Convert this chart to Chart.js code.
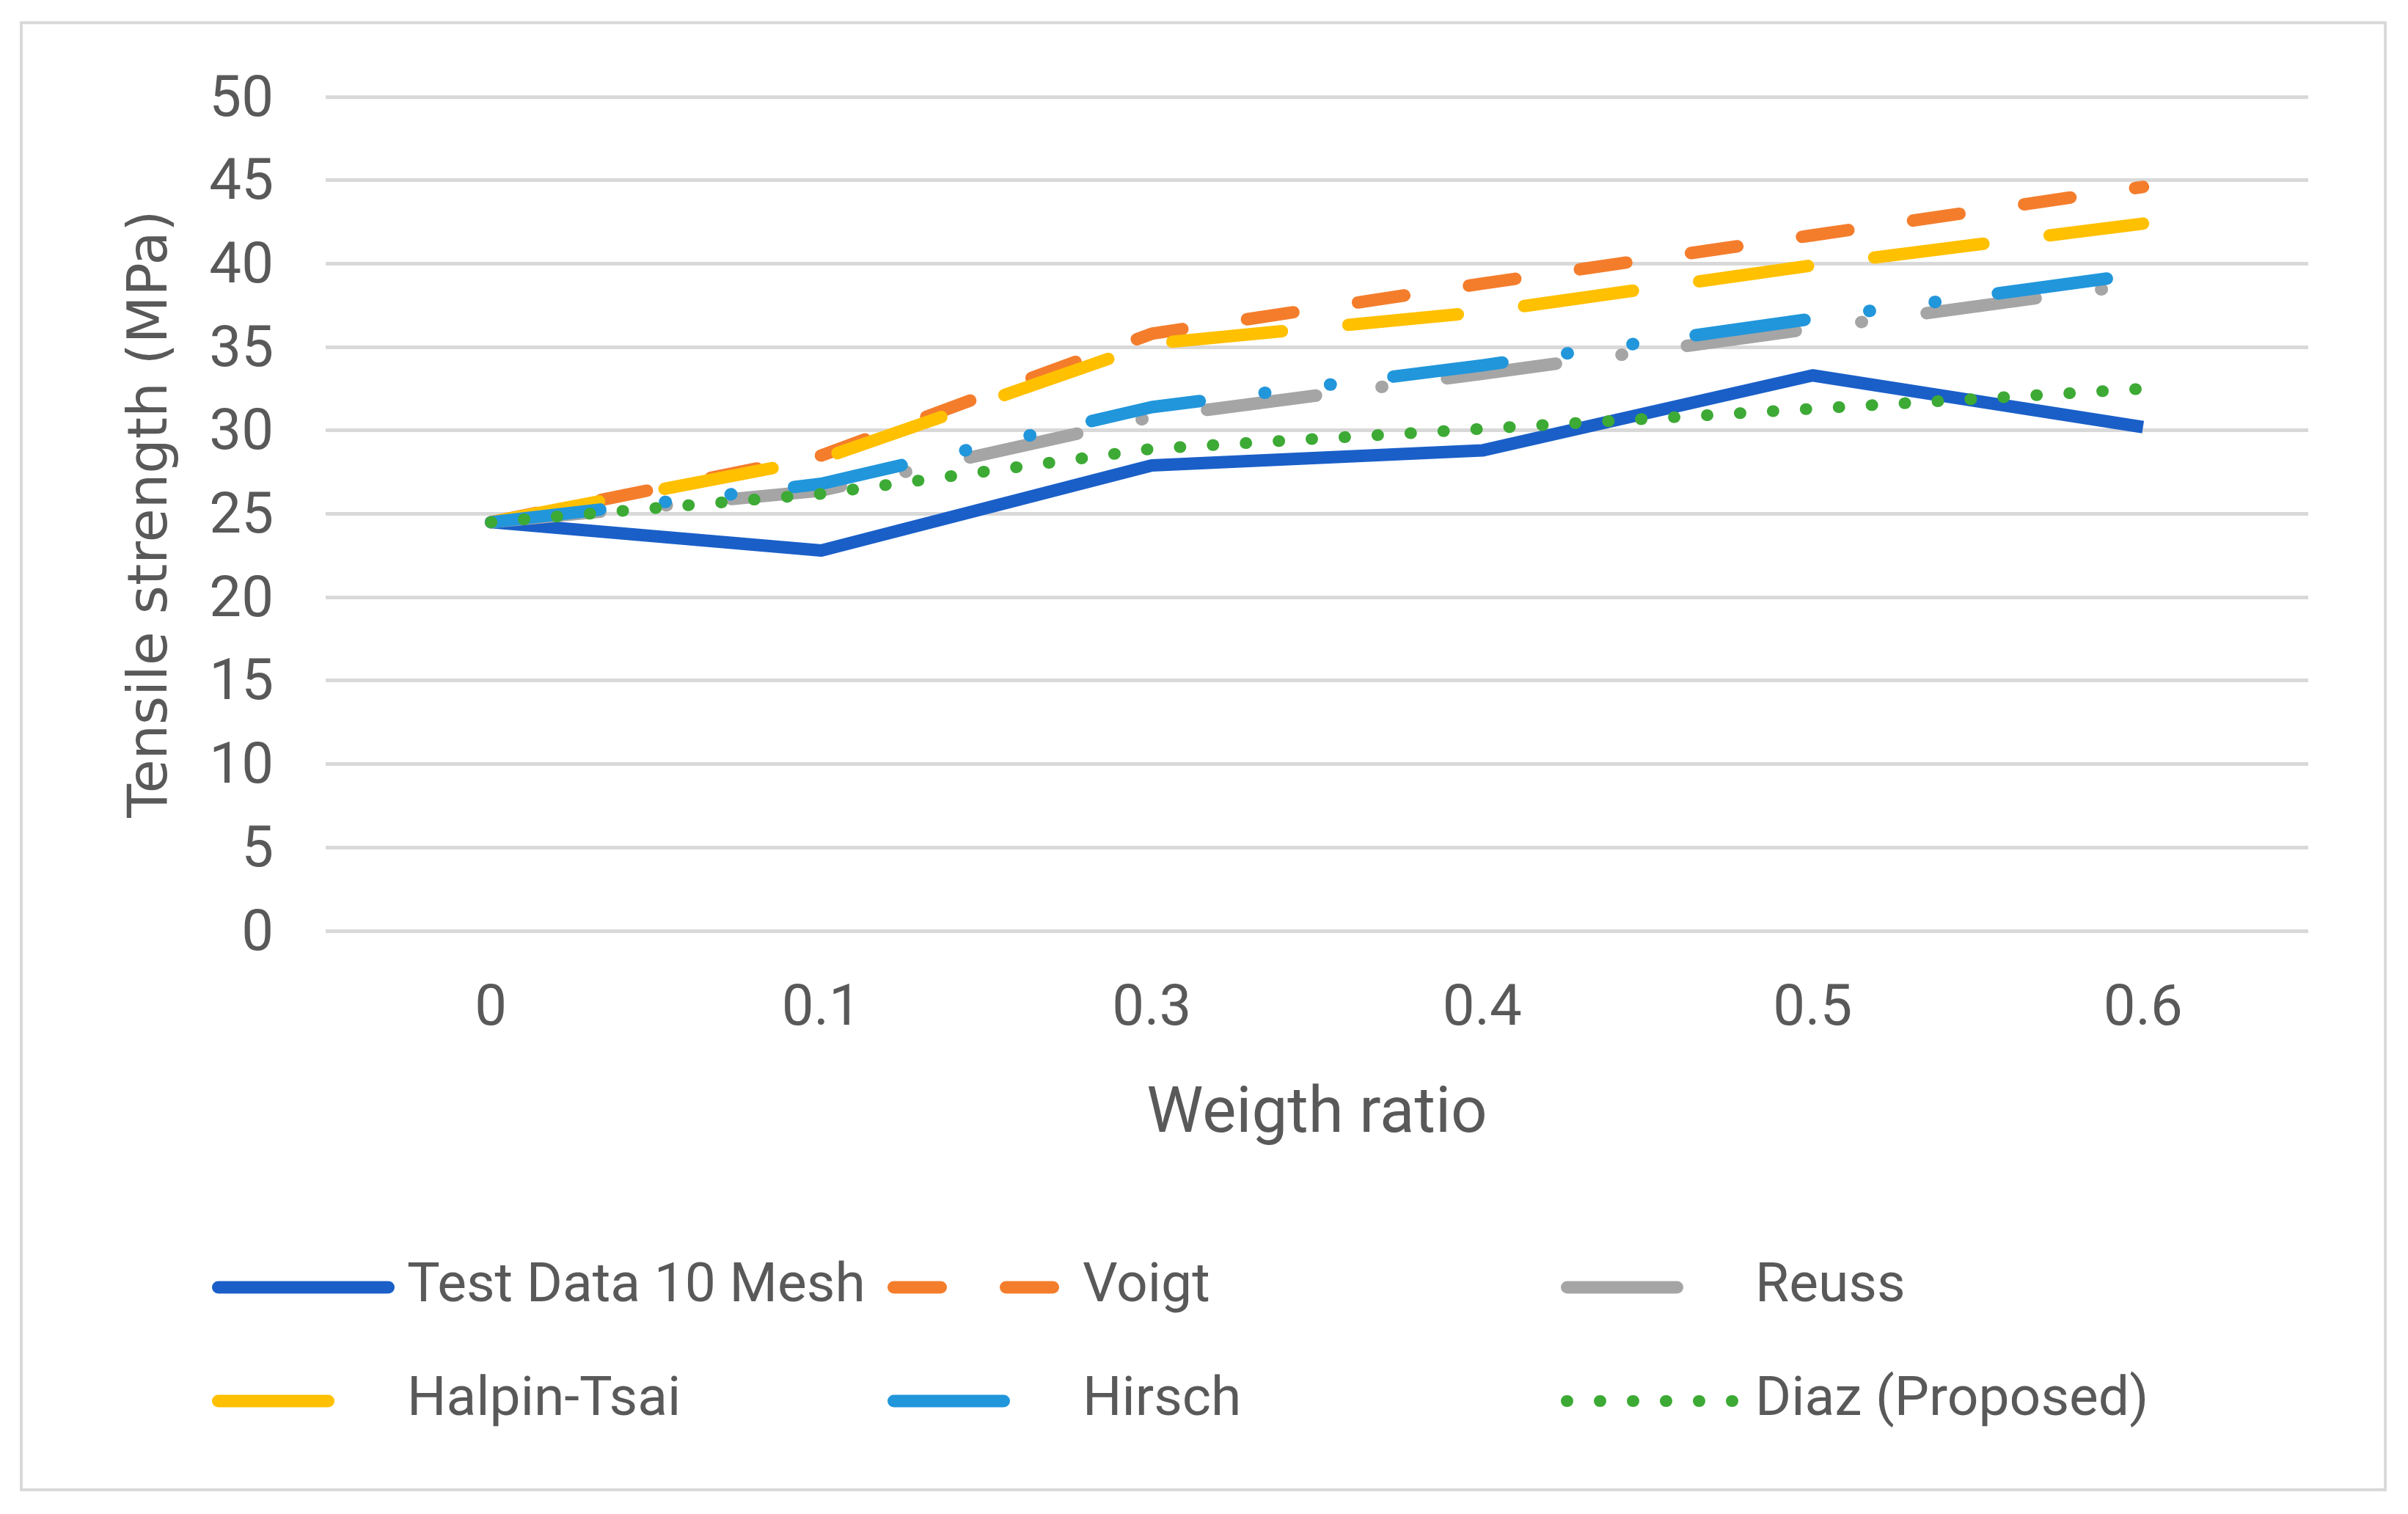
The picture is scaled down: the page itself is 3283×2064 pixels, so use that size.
<!DOCTYPE html>
<html lang="en">

<head>
    <meta charset="UTF-8">
    <title>Tensile strength vs weigth ratio</title>
    <script src="https://cdn.jsdelivr.net/npm/chart.js"></script>
    <style>
        html,
        body {
            margin: 0;
            padding: 0;
            background: #ffffff;
        }

        canvas {
            display: block;
        }
    </style>
</head>

<body>
    <canvas id="chart" width="3283" height="2064"></canvas>

    <script>
        // data
        const ratios = ['0', '0.1', '0.3', '0.4', '0.5', '0.6'];
        const testData = [24.5, 22.8, 27.9, 28.8, 33.3, 30.2];
        const voigt = [24.5, 28.5, 35.8, 38.8, 41.7, 44.6];
        const reuss = [24.5, 26.4, 30.8, 33.4, 36.1, 38.8];
        const halpinTsai = [24.5, 28.3, 35.2, 37.1, 39.9, 42.4];
        const hirsch = [24.5, 26.8, 31.4, 33.9, 36.7, 39.4];
        const diaz = [24.5, 26.2, 28.9, 30.1, 31.3, 32.5];
        const yTicks = [0, 5, 10, 15, 20, 25, 30, 35, 40, 45, 50];

        const TEXT = '#595959';
        const FONT = "Roboto, 'Noto Sans', sans-serif";

        function series(label, data, color, width, dash, order) {
            return {
                label: label,
                data: data,
                borderColor: color,
                backgroundColor: color,
                borderWidth: width,
                borderDash: dash,
                borderCapStyle: dash.length ? 'round' : 'butt',
                borderJoinStyle: 'round',
                pointRadius: 0,
                tension: 0,
                fill: false,
                order: order
            };
        }

        const datasets = [
            series('Test Data 10 Mesh', testData, '#1a5fc8', 17, [], 5),
            series('Voigt', voigt, '#f47d2c', 17, [64, 89], 4),
            series('Reuss', reuss, '#a5a5a5', 17, [150, 90, 1, 89], 3),
            series('Halpin-Tsai', halpinTsai, '#ffc000', 17, [150, 91], 2),
            series('Hirsch', hirsch, '#2196db', 17, [150, 89, 1, 89, 1, 86], 1),
            series('Diaz (Proposed)', diaz, '#3daa35', 16, [1, 44], 0)
        ];

        // frame + legend in two rows of three
        const legendLayout = [
            { x: 289, y: 1755, len: 249, tx: 555 },
            { x: 1210, y: 1755, len: 235, tx: 1476 },
            { x: 2128, y: 1755, len: 175, tx: 2393 },
            { x: 289, y: 1910, len: 172, tx: 555 },
            { x: 1210, y: 1910, len: 172, tx: 1476 },
            { x: 2128, y: 1910, len: 246, tx: 2393 }
        ];

        const framePlugin = {
            id: 'frame',
            beforeDraw(chart) {
                const ctx = chart.ctx;
                ctx.save();
                ctx.fillStyle = '#ffffff';
                ctx.fillRect(0, 0, chart.width, chart.height);
                ctx.strokeStyle = '#d9d9d9';
                ctx.lineWidth = 4;
                ctx.strokeRect(29, 31, 3223, 2000);
                ctx.restore();
            },
            afterDraw(chart) {
                const ctx = chart.ctx;
                ctx.save();
                chart.data.datasets.forEach((ds, i) => {
                    const p = legendLayout[i];
                    const cap = ds.borderWidth / 2;
                    ctx.beginPath();
                    ctx.strokeStyle = ds.borderColor;
                    ctx.lineWidth = ds.borderWidth;
                    ctx.lineCap = 'round';
                    ctx.setLineDash(ds.borderDash);
                    ctx.moveTo(p.x + cap, p.y);
                    ctx.lineTo(p.x + p.len - cap, p.y);
                    ctx.stroke();
                    ctx.setLineDash([]);
                    ctx.fillStyle = TEXT;
                    ctx.font = '75px ' + FONT;
                    ctx.textBaseline = 'middle';
                    ctx.textAlign = 'left';
                    ctx.fillText(ds.label, p.tx, p.y);
                });
                ctx.restore();
            }
        };

        new Chart(document.getElementById('chart').getContext('2d'), {
            type: 'line',
            data: {
                labels: ratios,
                datasets: datasets
            },
            options: {
                responsive: false,
                animation: false,
                devicePixelRatio: 1,
                layout: {
                    padding: { left: 0, top: 132, right: 136, bottom: 465 }
                },
                plugins: {
                    legend: { display: false },
                    tooltip: { enabled: false }
                },
                scales: {
                    x: {
                        offset: true,
                        grid: { display: false, drawTicks: false },
                        border: { display: false },
                        ticks: {
                            color: TEXT,
                            font: { family: FONT, size: 78 },
                            padding: 62,
                            maxRotation: 0
                        },
                        title: {
                            display: true,
                            text: 'Weigth ratio',
                            color: TEXT,
                            font: { family: FONT, size: 87 },
                            padding: { top: 0, bottom: 26 }
                        },
                        afterFit(scale) { scale.height = 330; }
                    },
                    y: {
                        min: 0,
                        max: 50,
                        afterBuildTicks(scale) {
                            scale.ticks = yTicks.map(v => ({ value: v }));
                        },
                        grid: { color: '#d9d9d9', lineWidth: 5, drawTicks: false },
                        border: { display: false },
                        ticks: {
                            color: TEXT,
                            font: { family: FONT, size: 78 },
                            padding: 71,
                            labelOffset: 6
                        },
                        title: {
                            display: true,
                            text: 'Tensile strength (MPa)',
                            color: TEXT,
                            font: { family: "'DejaVu Sans', Verdana, sans-serif", size: 75 },
                            padding: { top: 163, bottom: 0 }
                        },
                        afterFit(scale) { scale.width = 444; }
                    }
                }
            },
            plugins: [framePlugin]
        });
    </script>
</body>

</html>
